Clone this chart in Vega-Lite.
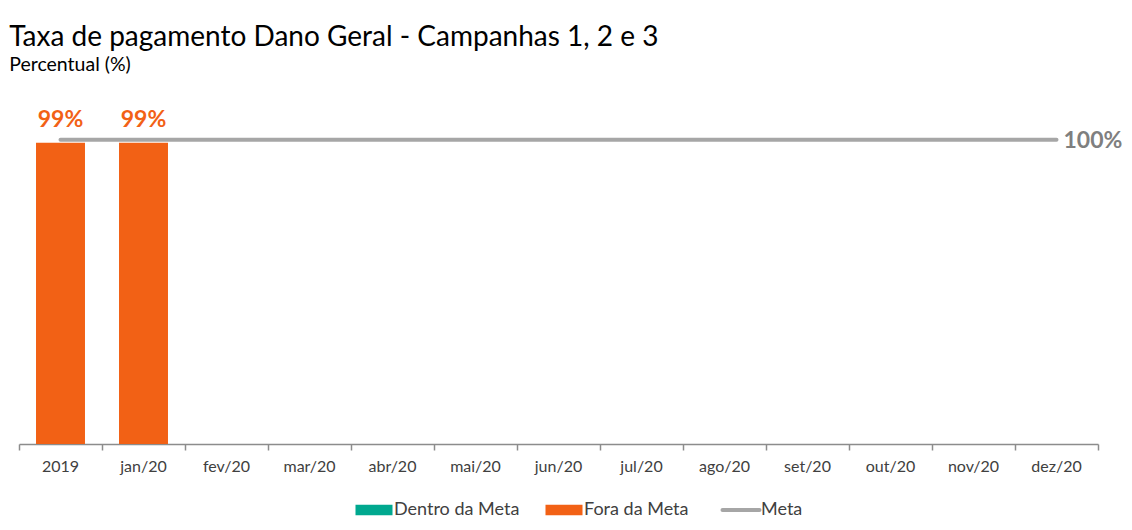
{
  "$schema": "https://vega.github.io/schema/vega-lite/v6.json",
  "width": 1079,
  "height": 350,
  "autosize": {"type": "none"},
  "padding": {"left": 19, "top": 94, "right": 34, "bottom": 86},
  "background": "white",
  "title": {
    "text": "Taxa de pagamento Dano Geral - Campanhas 1, 2 e 3",
    "subtitle": "Percentual (%)",
    "anchor": "start",
    "dx": -9,
    "offset": 20,
    "font": "Lato",
    "fontSize": 28,
    "fontWeight": "normal",
    "color": "#000000",
    "subtitleFont": "Lato",
    "subtitleFontSize": 19.5,
    "subtitleColor": "#000000",
    "subtitlePadding": 4
  },
  "data": {
    "values": [
      {"mes": "2019", "valor": 0.99, "status": "Fora da Meta", "meta": 1.0, "serie": "Meta"},
      {"mes": "jan/20", "valor": 0.99, "status": "Fora da Meta", "meta": 1.0, "serie": "Meta"},
      {"mes": "fev/20", "valor": null, "status": null, "meta": 1.0, "serie": "Meta"},
      {"mes": "mar/20", "valor": null, "status": null, "meta": 1.0, "serie": "Meta"},
      {"mes": "abr/20", "valor": null, "status": null, "meta": 1.0, "serie": "Meta"},
      {"mes": "mai/20", "valor": null, "status": null, "meta": 1.0, "serie": "Meta"},
      {"mes": "jun/20", "valor": null, "status": null, "meta": 1.0, "serie": "Meta"},
      {"mes": "jul/20", "valor": null, "status": null, "meta": 1.0, "serie": "Meta"},
      {"mes": "ago/20", "valor": null, "status": null, "meta": 1.0, "serie": "Meta"},
      {"mes": "set/20", "valor": null, "status": null, "meta": 1.0, "serie": "Meta"},
      {"mes": "out/20", "valor": null, "status": null, "meta": 1.0, "serie": "Meta"},
      {"mes": "nov/20", "valor": null, "status": null, "meta": 1.0, "serie": "Meta"},
      {"mes": "dez/20", "valor": null, "status": null, "meta": 1.0, "serie": "Meta"}
    ]
  },
  "encoding": {
    "x": {
      "field": "mes",
      "type": "nominal",
      "sort": null,
      "scale": {"paddingInner": 0, "paddingOuter": 0},
      "axis": {
        "title": null,
        "labelAngle": 0,
        "labelFont": "Lato",
        "labelFontSize": 16,
        "labelColor": "#404040",
        "labelPadding": 8,
        "domainColor": "#8c8c8c",
        "domainWidth": 1.5,
        "tickColor": "#8c8c8c",
        "tickWidth": 1.5,
        "tickSize": 6,
        "bandPosition": 1,
        "tickExtra": true
      }
    }
  },
  "layer": [
    {
      "mark": {"type": "bar", "width": {"band": 0.59}},
      "transform": [{"filter": "datum.valor != null"}],
      "encoding": {
        "y": {
          "field": "valor",
          "type": "quantitative",
          "scale": {"domain": [0, 1.15], "nice": false},
          "axis": null
        },
        "color": {
          "field": "status",
          "type": "nominal",
          "scale": {
            "domain": ["Dentro da Meta", "Fora da Meta", "Meta"],
            "range": ["#00a88f", "#f26115", "#a6a6a6"]
          },
          "legend": {
            "title": null,
            "orient": "none",
            "legendX": 346,
            "legendY": 407,
            "direction": "horizontal",
            "gridAlign": "none",
            "labelFont": "Lato",
            "labelFontSize": 18,
            "labelColor": "#404040",
            "labelOffset": 11,
            "columnPadding": 25,
            "symbolSize": 1369,
            "encode": {
              "symbols": {
                "update": {
                  "shape": {"signal": "datum.label == 'Meta' ? 'M-1,0H1' : 'M-1,-0.28H1V0.28H-1Z'"},
                  "fill": {"signal": "datum.label == 'Meta' ? 'transparent' : scale('color', datum.value)"},
                  "stroke": {"signal": "scale('color', datum.value)"},
                  "strokeWidth": {"signal": "datum.label == 'Meta' ? 4 : 0"},
                  "strokeCap": {"value": "round"},
                  "opacity": {"value": 1}
                }
              }
            }
          }
        }
      }
    },
    {
      "mark": {"type": "text", "baseline": "alphabetic", "dy": -16, "font": "Lato", "fontSize": 23, "fontWeight": "bold", "color": "#f26115"},
      "transform": [{"filter": "datum.valor != null"}],
      "encoding": {
        "y": {"field": "valor", "type": "quantitative"},
        "text": {"field": "valor", "type": "quantitative", "format": ".0%"}
      }
    },
    {
      "mark": {"type": "line", "strokeWidth": 4, "strokeCap": "round"},
      "encoding": {
        "y": {"field": "meta", "type": "quantitative"},
        "color": {"field": "serie", "type": "nominal"}
      }
    },
    {
      "mark": {"type": "text", "align": "left", "baseline": "middle", "dx": 7, "dy": 1, "font": "Lato", "fontSize": 23, "fontWeight": "bold", "color": "#7f7f7f"},
      "transform": [{"filter": "datum.mes == 'dez/20'"}],
      "encoding": {
        "y": {"field": "meta", "type": "quantitative"},
        "text": {"field": "meta", "type": "quantitative", "format": ".0%"}
      }
    }
  ],
  "config": {
    "view": {"stroke": null}
  }
}
